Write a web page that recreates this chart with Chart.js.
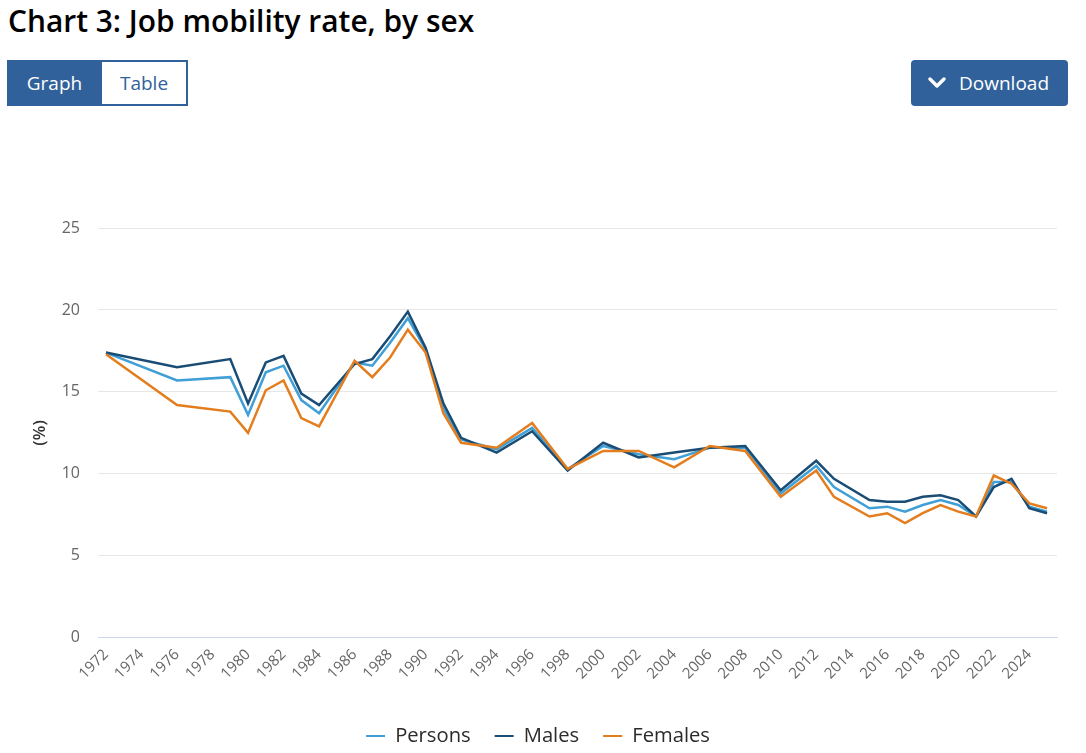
<!DOCTYPE html>
<html>
<head>
<meta charset="utf-8">
<script src="https://cdn.jsdelivr.net/npm/chart.js@4.4.0/dist/chart.umd.min.js"></script>
<style>
  html,body{margin:0;padding:0;background:#fff;font-family:"Open Sans",sans-serif;}
  body{width:1086px;height:753px;position:relative;overflow:hidden;}
  h1{position:absolute;left:8px;top:0px;margin:0;font-size:29.9px;font-weight:600;color:#000;letter-spacing:0;}
  .tabs{position:absolute;left:7px;top:60px;height:46px;display:flex;}
  .tab{box-sizing:border-box;height:46px;font-size:19px;line-height:42px;text-align:center;border:2px solid #31619a;}
  .tab.on{width:95px;background:#31619a;color:#fff;}
  .tab.off{width:86px;background:#fff;color:#31619a;border-left:none;}
  .dl{position:absolute;left:911px;top:60px;width:157px;height:46px;background:#31619a;border-radius:4px;color:#fff;font-size:19px;line-height:46px;box-sizing:border-box;padding-left:48px;}
  .dl svg{position:absolute;left:17px;top:16px;}
  #wrap{position:absolute;left:0;top:130px;width:1086px;height:626px;}
</style>
</head>
<body>
<h1>Chart 3: Job mobility rate, by sex</h1>
<div class="tabs"><div class="tab on">Graph</div><div class="tab off">Table</div></div>
<div class="dl"><svg width="18" height="14" viewBox="0 0 18 14"><polyline points="2,3 9,10 16,3" fill="none" stroke="#fff" stroke-width="3.4" stroke-linecap="round" stroke-linejoin="round"/></svg>Download</div>
<div id="wrap"><canvas id="c"></canvas></div>
<script>
const years = [1972,1976,1979,1980,1981,1982,1983,1984,1986,1987,1988,1989,1990,1991,1992,1994,1996,1998,2000,2002,2004,2006,2008,2010,2012,2013,2015,2016,2017,2018,2019,2020,2021,2022,2023,2024,2025];
const persons = [17.4,15.7,15.9,13.6,16.2,16.6,14.5,13.7,16.8,16.6,18.0,19.5,17.6,14.0,12.1,11.5,12.8,10.3,11.7,11.2,10.9,11.6,11.6,8.8,10.5,9.2,7.9,8.0,7.7,8.1,8.4,8.1,7.4,9.5,9.5,8.0,7.7];
const males = [17.4,16.5,17.0,14.3,16.8,17.2,14.9,14.2,16.7,17.0,18.4,19.9,17.7,14.3,12.2,11.3,12.6,10.2,11.9,11.0,11.3,11.6,11.7,9.0,10.8,9.7,8.4,8.3,8.3,8.6,8.7,8.4,7.4,9.2,9.7,7.9,7.6];
const females = [17.3,14.2,13.8,12.5,15.1,15.7,13.4,12.9,16.9,15.9,17.1,18.8,17.4,13.7,11.9,11.6,13.1,10.3,11.4,11.4,10.4,11.7,11.4,8.6,10.2,8.6,7.4,7.6,7.0,7.6,8.1,7.7,7.4,9.9,9.4,8.2,7.9];
const xTickYears = [1972,1974,1976,1978,1980,1982,1984,1986,1988,1990,1992,1994,1996,1998,2000,2002,2004,2006,2008,2010,2012,2014,2016,2018,2020,2022,2024];
const yTicks = [0,5,10,15,20,25];

const toPts = arr => years.map((y,i)=>({x:y,y:arr[i]}));
const mk = (label, arr, color, order) => ({label, data: toPts(arr), borderColor: color, backgroundColor: color, borderWidth: 2.5, pointRadius: 0, pointHoverRadius: 0, tension: 0, order});

new Chart(document.getElementById('c'), {
  type: 'line',
  data: { datasets: [
    mk('Persons', persons, '#3f9fd6', 3),
    mk('Males', males, '#1a4d75', 2),
    mk('Females', females, '#e37d1d', 1)
  ]},
  options: {
    responsive: true, maintainAspectRatio: false, animation: false,
    layout: { padding: { top: 98, right: 29, left: 19, bottom: 0 } },
    plugins: {
      tooltip: { enabled: false },
      legend: {
        position: 'bottom',
        labels: {
          color: '#2b2b2b', font: { family: 'Open Sans', size: 20.2 },
          boxWidth: 19, boxHeight: 2, padding: 24,
          sort: (a,b)=>a.datasetIndex-b.datasetIndex,
          generateLabels: (chart) => {
            const items = Chart.defaults.plugins.legend.labels.generateLabels(chart);
            items.forEach(it => { it.lineWidth = 0; });
            return items;
          }
        }
      }
    },
    scales: {
      x: {
        type: 'linear', min: 1971.55, max: 2025.56,
        afterBuildTicks: s => { s.ticks = xTickYears.map(v=>({value:v})); },
        afterFit: s => { s.height = 64; },
        grid: { display: false, drawTicks: false },
        border: { display: true, color: '#ccd6eb', width: 1 },
        ticks: { color: '#666', font: { family: 'Open Sans', size: 15 }, minRotation: 45, maxRotation: 45, padding: 8, autoSkip: false, callback: v => String(v) }
      },
      y: {
        min: 0, max: 25,
        afterBuildTicks: s => { s.ticks = yTicks.map(v=>({value:v})); },
        afterFit: s => { s.width = 79; },
        grid: { color: '#e6e6e6', drawTicks: false },
        border: { display: false },
        title: { display: true, text: '(%)', color: '#333', font: { family: 'Open Sans', size: 17, weight: '600' }, padding: { top: 11, bottom: 0 } },
        ticks: { color: '#666', font: { family: 'Open Sans', size: 16 }, padding: 18 }
      }
    }
  }
});
</script>
</body>
</html>
